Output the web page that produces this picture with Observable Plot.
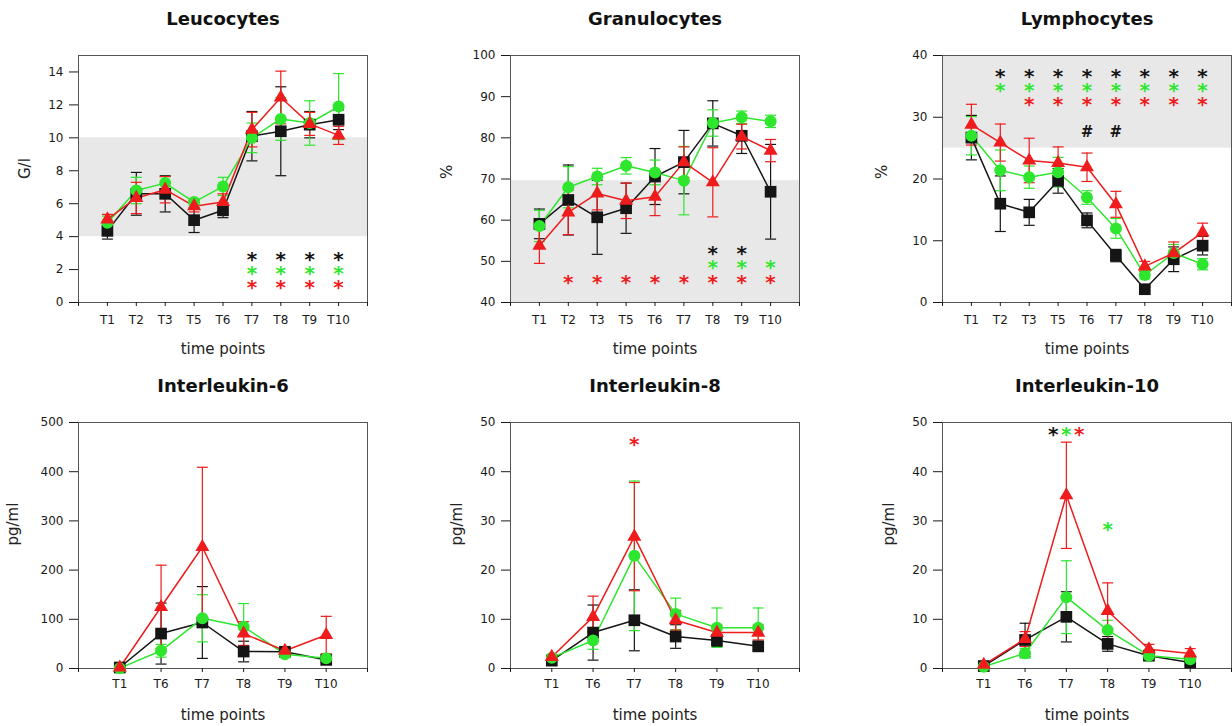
<!DOCTYPE html>
<html><head><meta charset="utf-8">
<script src="https://cdn.jsdelivr.net/npm/d3@7"></script>
<script src="https://cdn.jsdelivr.net/npm/@observablehq/plot@0.6"></script>
<style>
html,body{margin:0;padding:0;background:#fff;overflow:hidden;width:1232px;height:726px;}
.panel{position:absolute;}
</style></head><body>
<div id="root"></div>
<script>
// ---------- categories ----------
const cellCats = ["T1","T2","T3","T5","T6","T7","T8","T9","T10"];
const cytoCats = ["T1","T6","T7","T8","T9","T10"];

// ---------- Leucocytes (G/l) ----------
const leuBlack   = [4.35, 6.6, 6.6, 5.0, 5.6, 10.1, 10.4, 10.8, 11.1];
const leuBlackSd = [0.5, 1.3, 1.1, 0.75, 0.45, 1.5, 2.7, 0.8, 0.6];
const leuGreen   = [4.85, 6.8, 7.25, 6.1, 7.05, 10.0, 11.15, 10.9, 11.9];
const leuGreenSd = [0.4, 0.8, 0.4, 0.2, 0.55, 0.9, 1.3, 1.35, 2.0];
const leuRed     = [5.05, 6.35, 6.85, 5.85, 6.1, 10.5, 12.45, 10.85, 10.15];
const leuRedSd   = [0.3, 0.95, 0.8, 0.35, 0.5, 1.05, 1.6, 0.7, 0.55];

// ---------- Granulocytes (%) ----------
const graBlack   = [59.1, 64.9, 60.7, 62.9, 70.6, 74.1, 83.5, 80.5, 66.9];
const graBlackSd = [3.6, 8.5, 9.0, 6.1, 6.8, 7.7, 5.5, 4.3, 11.5];
const graGreen   = [58.6, 68.0, 70.6, 73.2, 71.6, 69.6, 83.6, 85.0, 84.0];
const graGreenSd = [3.8, 5.0, 2.0, 2.0, 3.0, 8.3, 3.2, 1.5, 1.5];
const graRed     = [53.8, 61.9, 66.5, 64.7, 65.7, 74.1, 69.2, 80.3, 76.9];
const graRedSd   = [4.3, 5.4, 4.0, 4.3, 4.6, 3.7, 8.4, 3.0, 2.7];

// ---------- Lymphocytes (%) ----------
const lymBlack   = [26.7, 16.0, 14.6, 19.7, 13.3, 7.6, 2.15, 7.0, 9.2];
const lymBlackSd = [3.6, 4.5, 2.1, 2.0, 1.2, 1.0, 0.3, 2.0, 1.5];
const lymGreen   = [27.0, 21.4, 20.3, 21.1, 17.0, 12.0, 4.45, 8.0, 6.2];
const lymGreenSd = [3.1, 3.3, 1.8, 2.4, 1.1, 1.6, 0.6, 1.4, 0.9];
const lymRed     = [28.8, 25.9, 23.0, 22.6, 21.9, 15.9, 5.85, 8.0, 11.35];
const lymRedSd   = [3.3, 3.0, 3.6, 2.6, 2.3, 2.1, 0.8, 1.8, 1.5];

// ---------- Interleukin-6 (pg/ml) ----------
const il6Black   = [2, 71, 93.5, 34.5, 34, 17.5];
const il6BlackSd = [1, 62, 73, 21, 5, 5];
const il6Green   = [0.7, 36, 102, 85, 29, 21];
const il6GreenSd = [0.5, 13, 48, 47, 4, 3];
const il6Red     = [2, 125, 247, 71, 36, 68];
const il6RedSd   = [1, 85, 162, 24, 5, 38];

// ---------- Interleukin-8 (pg/ml) ----------
const il8Black   = [1.6, 7.3, 9.8, 6.5, 5.7, 4.5];
const il8BlackSd = [0.3, 5.6, 6.2, 2.4, 1.2, 0.7];
const il8Green   = [2.2, 5.7, 22.9, 11.1, 8.3, 8.3];
const il8GreenSd = [0.4, 1.8, 15.2, 3.2, 4.0, 4.0];
const il8Red     = [2.35, 10.5, 26.8, 9.8, 7.3, 7.3];
const il8RedSd   = [0.4, 4.2, 11.0, 2.0, 1.5, 1.5];

// ---------- Interleukin-10 (pg/ml) ----------
const il10Black   = [0.5, 5.8, 10.5, 5.0, 2.6, 1.2];
const il10BlackSd = [0.3, 3.4, 5.1, 1.5, 0.5, 0.5];
const il10Green   = [0.35, 3.1, 14.5, 7.8, 2.6, 1.9];
const il10GreenSd = [0.2, 1.0, 7.4, 2.0, 0.5, 0.6];
const il10Red     = [0.75, 6.0, 35.2, 11.7, 3.9, 3.05];
const il10RedSd   = [0.3, 1.5, 10.8, 5.7, 1.0, 1.0];

// ---------- significance markers: [symbol, group, level, time points, pixel shift] ----------
const leuMarks = [["*","black",2.75,["T7","T8","T9","T10"],0],["*","green",1.9,["T7","T8","T9","T10"],0],["*","red",1.05,["T7","T8","T9","T10"],0]];
const graMarks = [["*","black",52.4,["T8","T9"],0],["*","green",48.9,["T8","T9","T10"],0],["*","red",45.4,["T2","T3","T5","T6","T7","T8","T9","T10"],0]];
const lymMarks = [["*","black",36.9,["T2","T3","T5","T6","T7","T8","T9","T10"],0],["*","green",34.6,["T2","T3","T5","T6","T7","T8","T9","T10"],0],["*","red",32.3,["T3","T5","T6","T7","T8","T9","T10"],0],["#","black",27.6,["T6","T7"],0]];
const il6Marks = [];
const il8Marks = [["*","red",45.9,["T7"],0]];
const il10Marks = [["*","black",48,["T7"],-13],["*","green",48,["T7"],0],["*","red",48,["T7"],13],["*","green",28.7,["T8"],0]];

// ---------- styling ----------
const colors = {black:"#151515", green:"#2fe62f", red:"#ee1c1c"};
const symbols = {black:"square", green:"circle", red:"triangle"};
const radii = {black:6.6, green:6, red:5.2};
const capSymbol = {draw(ctx, size){ const w = Math.sqrt(size); ctx.moveTo(-w,0); ctx.lineTo(w,0); }};

function makePanel(cfg){
  const cats = cfg.cats, n = cats.length;
  const top = cfg.row === 0;
  const height = top ? 370 : 360, mt = top ? 55 : 56, mb = top ? 68 : 58;
  const marks = [];
  if (cfg.band) marks.push(Plot.rect([cfg.band], {y1: d=>d[0], y2: d=>d[1], fill:"#e8e8e8"}));
  marks.push(Plot.frame({stroke:"#555", strokeWidth:1}));
  marks.push(Plot.axisY({ticks: cfg.yticks, tickSize: 9, tickPadding: 6, label: null, fontSize: 12}));
  marks.push(Plot.axisX({ticks: d3.range(0, n+2), tickFormat: d => cats[d-1] ?? "", tickSize: 4, tickPadding: top ? 9 : 7, label: null, fontSize: 12}));
  const series = cfg.series.map(([g, vals, sd]) => ({g, rows: vals.map((v,i)=>({x:i+1, v, lo:v-sd[i], hi:v+sd[i]}))}));
  for (const s of series) {
    marks.push(Plot.ruleX(s.rows, {x:"x", y1:"lo", y2:"hi", stroke: colors[s.g], strokeWidth: 1.2}));
    marks.push(Plot.dot(s.rows, {x:"x", y:"lo", symbol: capSymbol, r: 3.1, stroke: colors[s.g], fill:"none", strokeWidth: 1.2}));
    marks.push(Plot.dot(s.rows, {x:"x", y:"hi", symbol: capSymbol, r: 3.1, stroke: colors[s.g], fill:"none", strokeWidth: 1.2}));
  }
  for (const s of series) marks.push(Plot.line(s.rows, {x:"x", y:"v", stroke: colors[s.g], strokeWidth: 1.5}));
  for (const s of series) marks.push(Plot.dot(s.rows, {x:"x", y:"v", symbol: symbols[s.g], r: radii[s.g], fill: colors[s.g], stroke:"none"}));

  for (const [sym, g, level, pts, dx] of cfg.sig) {
    const isStar = sym === "*";
    marks.push(Plot.text(pts, {x: d => cats.indexOf(d)+1, y: () => level, text: () => sym, fill: colors[g],
      fontSize: isStar ? 20 : 15, fontWeight: "bold", dy: isStar ? 2 : 0, dx}));
  }
  marks.push(Plot.text([cfg.title], {text: d=>d, frameAnchor:"top", lineAnchor:"middle", dy:-36, fontSize:18, fontWeight:"bold", fill:"#111"}));
  marks.push(Plot.text(["time points"], {text: d=>d, frameAnchor:"bottom", lineAnchor:"middle", dy:47, fontSize:15, fill:"#222"}));
  marks.push(Plot.text([cfg.ylabel], {text: d=>d, frameAnchor:"left", dx: cfg.ylabDx, rotate:-90, fontSize:15, fill:"#222"}));

  const chart = Plot.plot({
    width: 368, height,
    marginLeft: 78, marginRight: 1, marginTop: mt, marginBottom: mb,
    x: {domain: [0, n+1]},
    y: {domain: cfg.ydomain},
    style: {fontFamily: "DejaVu Sans, sans-serif", fontSize: "12px", color: "#1a1a1a", background: "transparent", overflow: "visible"},
    marks
  });
  const div = document.createElement("div");
  div.className = "panel";
  div.style.left = cfg.left + "px";
  div.style.top = (top ? 0 : 366) + "px";
  div.appendChild(chart);
  document.getElementById("root").appendChild(div);
}

makePanel({row:0, left:0, title:"Leucocytes", ylabel:"G/l", ylabDx:-53, cats:cellCats, ydomain:[0,15], yticks:d3.range(0,15,2), band:[4,10],
  series:[["black",leuBlack,leuBlackSd],["green",leuGreen,leuGreenSd],["red",leuRed,leuRedSd]], sig:leuMarks});
makePanel({row:0, left:432, title:"Granulocytes", ylabel:"%", ylabDx:-63, cats:cellCats, ydomain:[40,100], yticks:d3.range(40,101,10), band:[40,69.6],
  series:[["black",graBlack,graBlackSd],["green",graGreen,graGreenSd],["red",graRed,graRedSd]], sig:graMarks});
makePanel({row:0, left:864, title:"Lymphocytes", ylabel:"%", ylabDx:-60, cats:cellCats, ydomain:[0,40], yticks:d3.range(0,41,10), band:[25,40],
  series:[["black",lymBlack,lymBlackSd],["green",lymGreen,lymGreenSd],["red",lymRed,lymRedSd]], sig:lymMarks});
makePanel({row:1, left:0, title:"Interleukin-6", ylabel:"pg/ml", ylabDx:-65, cats:cytoCats, ydomain:[0,500], yticks:d3.range(0,501,100),
  series:[["black",il6Black,il6BlackSd],["green",il6Green,il6GreenSd],["red",il6Red,il6RedSd]], sig:il6Marks});
makePanel({row:1, left:432, title:"Interleukin-8", ylabel:"pg/ml", ylabDx:-53, cats:cytoCats, ydomain:[0,50], yticks:d3.range(0,51,10),
  series:[["black",il8Black,il8BlackSd],["green",il8Green,il8GreenSd],["red",il8Red,il8RedSd]], sig:il8Marks});
makePanel({row:1, left:864, title:"Interleukin-10", ylabel:"pg/ml", ylabDx:-53, cats:cytoCats, ydomain:[0,50], yticks:d3.range(0,51,10),
  series:[["black",il10Black,il10BlackSd],["green",il10Green,il10GreenSd],["red",il10Red,il10RedSd]], sig:il10Marks});
</script>
</body></html>
